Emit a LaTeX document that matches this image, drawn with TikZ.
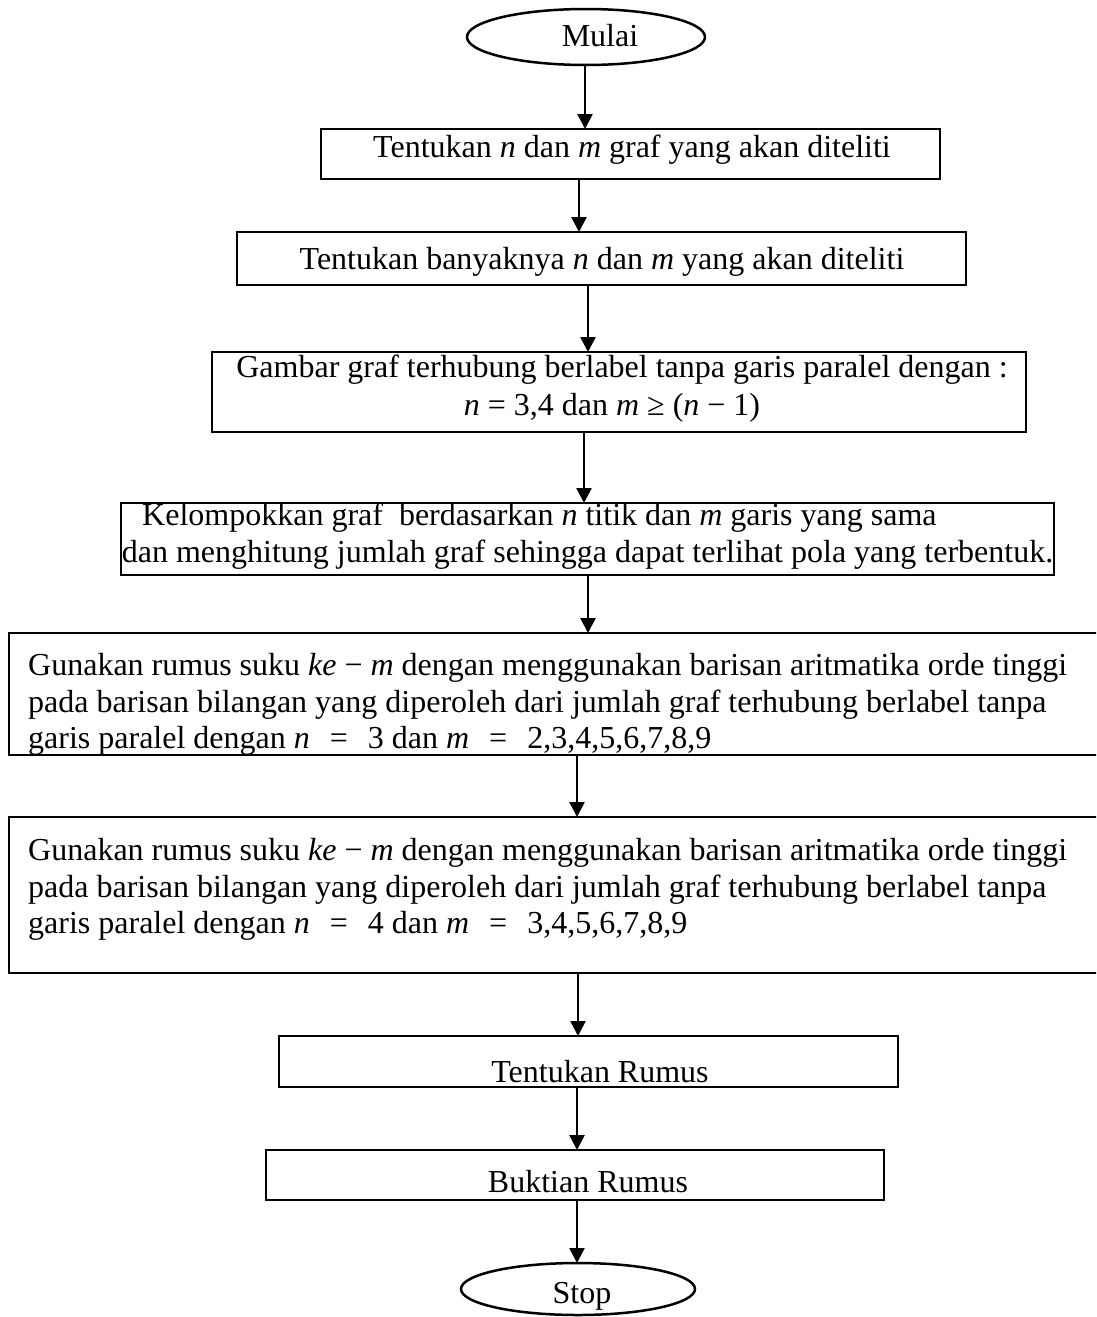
\documentclass[tikz,border=0pt]{standalone}
\usepackage{fontspec}
\setmainfont{Liberation Serif}
\usetikzlibrary{shapes.geometric,arrows.meta}
\newcommand{\eqsp}{\hspace{12pt}}
\begin{document}
\begin{tikzpicture}[x=1pt,y=-1pt,
  box/.style={draw, line width=2.5pt, rectangle, inner sep=0pt, outer sep=0pt},
  term/.style={draw, line width=2.5pt, ellipse, inner sep=0pt, outer sep=0pt},
  txt/.style={anchor=base, inner sep=0pt, font=\fontsize{32}{37}\selectfont},
  ltxt/.style={txt, anchor=base west},
  arr/.style={line width=2.5pt, -{Triangle[width=15pt,length=15pt]}}]
\clip (0,0) rectangle (1096,1317);
\fill[white] (0,0) rectangle (1096,1317);
% shapes
\node[term, minimum width=238pt, minimum height=56pt] (start) at (586,37) {};
\node[box, minimum width=619pt, minimum height=50pt] (b1) at (630.5,154) {};
\node[box, minimum width=729pt, minimum height=53pt] (b2) at (601.5,258.5) {};
\node[box, minimum width=814pt, minimum height=80pt] (b3) at (619,392) {};
\node[box, minimum width=933pt, minimum height=72pt] (b4) at (587.5,539) {};
\node[box, minimum width=1101pt, minimum height=122pt] (b5) at (559.5,694) {};
\node[box, minimum width=1101pt, minimum height=156pt] (b6) at (559.5,895) {};
\node[box, minimum width=619pt, minimum height=51pt] (b7) at (588.5,1061.5) {};
\node[box, minimum width=618pt, minimum height=50pt] (b8) at (575,1175) {};
\node[term, minimum width=234pt, minimum height=52pt] (stop) at (578,1289) {};
% texts
\node[txt] (tstart) at (600,46) {Mulai};
\node[txt] (t1) at (632,157) {Tentukan \textit{n} dan \textit{m} graf yang akan diteliti};
\node[txt] (t2) at (602,269) {Tentukan banyaknya \textit{n} dan \textit{m} yang akan diteliti};
\node[txt] (t3a) at (622,377) {Gambar graf terhubung berlabel tanpa garis paralel dengan :};
\node[txt] (t3b) at (612,415) {\textit{n} = 3,4 dan \textit{m} ≥ (\textit{n} − 1)};
\node[ltxt] (t4a) at (142,525) {Kelompokkan graf \ berdasarkan \textit{n} titik dan \textit{m} garis yang sama};
\node[txt] (t4b) at (587.5,562) {dan menghitung jumlah graf sehingga dapat terlihat pola yang terbentuk.};
\node[ltxt] (t5a) at (28,675) {Gunakan rumus suku \textit{ke} − \textit{m} dengan menggunakan barisan aritmatika orde tinggi};
\node[ltxt] (t5b) at (28,712) {pada barisan bilangan yang diperoleh dari jumlah graf terhubung berlabel tanpa};
\node[ltxt] (t5c) at (28,748) {garis paralel dengan \textit{n} \eqsp= \eqsp3 dan \textit{m} \eqsp= \eqsp2,3,4,5,6,7,8,9};
\node[ltxt] (t6a) at (28,860) {Gunakan rumus suku \textit{ke} − \textit{m} dengan menggunakan barisan aritmatika orde tinggi};
\node[ltxt] (t6b) at (28,897) {pada barisan bilangan yang diperoleh dari jumlah graf terhubung berlabel tanpa};
\node[ltxt] (t6c) at (28,933) {garis paralel dengan \textit{n} \eqsp= \eqsp4 dan \textit{m} \eqsp= \eqsp3,4,5,6,7,8,9};
\node[txt] (t7) at (600,1082) {Tentukan Rumus};
\node[txt] (t8) at (588,1192) {Buktian Rumus};
\node[txt] (tstop) at (582,1303) {Stop};
% connectors
\draw[arr] (585,0 |- start.south) -- (585,0 |- b1.north);
\draw[arr] (579,0 |- b1.south) -- (579,0 |- b2.north);
\draw[arr] (588,0 |- b2.south) -- (588,0 |- b3.north);
\draw[arr] (584,0 |- b3.south) -- (584,0 |- b4.north);
\draw[arr] (588,0 |- b4.south) -- (588,0 |- b5.north);
\draw[arr] (577,0 |- b5.south) -- (577,0 |- b6.north);
\draw[arr] (578,0 |- b6.south) -- (578,0 |- b7.north);
\draw[arr] (577,0 |- b7.south) -- (577,0 |- b8.north);
\draw[arr] (577,0 |- b8.south) -- (577,0 |- stop.north);
\end{tikzpicture}
\end{document}
